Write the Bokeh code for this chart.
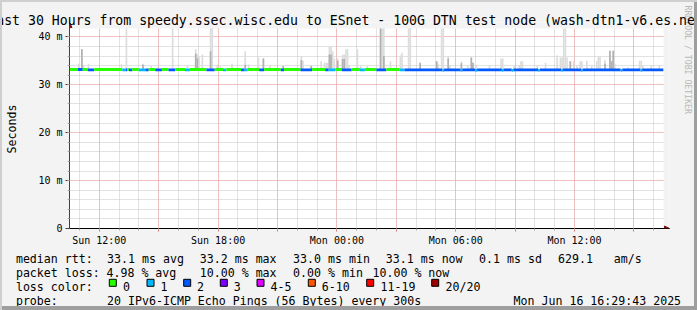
import math
import pandas as pd
from bokeh.plotting import figure
from bokeh.layouts import column
from bokeh.models import (ColumnDataSource, FixedTicker, Range1d, Arrow, NormalHead, Title)
from bokeh.core.properties import value
from bokeh.embed import file_html
from bokeh.resources import INLINE

# ---------------- data ----------------
title_text = "Last 30 Hours from speedy.ssec.wisc.edu to ESnet - 100G DTN test node (wash-dtn1-v6.es.net)"
start_time = "2025-06-15 10:29:43"
end_time = "2025-06-16 16:29:43"
step_seconds = 300

# median rtt, run-length segments (start step, lost-ping class, median ms)
seg_start = [0, 5, 8, 11, 15, 32, 34, 35, 36, 38, 42, 46, 48, 52, 56, 60, 64, 70, 73, 83,
             88, 93, 95, 104, 106, 108, 115, 118, 128, 130, 140, 147, 155, 157, 161, 165, 171, 176, 179, 186,
             192, 200, 203, 226, 227, 237, 238, 246, 247, 262, 263, 268, 269, 284, 285, 298, 299, 310, 311, 334,
             335, 346, 347]
seg_loss = [0, 2, 0, 2, 0, 1, 2, 0, 2, 0, 1, 2, 0, 2, 0, 2, 0, 1, 0, 2,
            0, 1, 0, 2, 1, 0, 2, 0, 2, 0, 2, 0, 2, 1, 0, 2, 0, 1, 0, 2,
            0, 1, 2, 1, 2, 1, 2, 1, 2, 1, 2, 1, 2, 1, 2, 1, 2, 1, 2, 1,
            2, 1, 2]
seg_median = [33.2, 33.2, 33.2, 33.1, 33.2, 33.1, 33.1, 33.2, 33.1, 33.2, 33.1, 33.1, 33.2, 33.1, 33.2, 33.1, 33.2, 33.1, 33.2, 33.1,
              33.2, 33.1, 33.2, 33.1, 33.1, 33.2, 33.1, 33.2, 33.1, 33.2, 33.1, 33.2, 33.1, 33.1, 33.2, 33.1, 33.2, 33.1, 33.2, 33.1,
              33.2, 33.1, 33.1, 33.0, 33.1, 33.0, 33.1, 33.0, 33.1, 33.0, 33.1, 33.0, 33.1, 33.0, 33.1, 33.0, 33.1, 33.0, 33.1, 33.0,
              33.1, 33.0, 33.1]

# smoke (ping spread) per step: highest ping and top of the dense (darker) part, ms
spike_step = [5, 7, 8, 11, 31, 34, 44, 49, 53, 62, 71, 76, 77, 78, 80, 85, 86, 89, 91, 98,
              106, 108, 114, 117, 121, 129, 134, 140, 141, 146, 152, 154, 155, 156, 157, 158, 159, 160, 162, 165,
              166, 167, 168, 169, 174, 176, 180, 188, 189, 190, 194, 200, 201, 205, 206, 212, 222, 223, 225, 226,
              229, 230, 237, 241, 243, 244, 246, 254, 261, 262, 269, 272, 273, 274, 283, 288, 295, 297, 298, 299,
              300, 301, 303, 305, 307, 309, 310, 313, 316, 319, 320, 321, 324, 327, 328, 329, 330, 338, 345, 346,
              347, 352, 357]
spike_max = [34.4, 37.4, 34.2, 34.4, 34.3, 42.5, 34.4, 33.9, 33.6, 42.5, 33.9, 37.4, 36.3, 35.9, 36.3, 42.5, 42.5, 34.2, 33.8, 34.4,
             37.0, 34.2, 35.7, 35.5, 33.9, 33.9, 33.5, 36.0, 35.0, 33.9, 34.9, 34.6, 34.6, 34.6, 37.9, 37.9, 37.0, 35.5, 35.5, 36.3,
             36.3, 37.4, 37.4, 34.0, 37.4, 33.9, 33.9, 42.5, 42.5, 42.5, 34.9, 36.1, 36.7, 42.5, 42.5, 34.6, 34.9, 34.4, 42.5, 42.5,
             36.0, 33.9, 34.9, 34.0, 35.7, 34.6, 34.1, 34.0, 35.5, 35.5, 33.9, 34.0, 34.9, 34.9, 34.0, 34.6, 36.1, 35.7, 35.7, 42.5,
             42.5, 35.7, 34.9, 34.9, 33.9, 34.9, 34.9, 35.0, 33.9, 34.9, 35.9, 35.9, 35.2, 37.1, 34.9, 37.1, 34.4, 33.6, 35.0, 35.0,
             34.0, 33.9, 33.9]
spike_mid = [0, 37.4, 0, 0, 0, 0, 34.2, 0, 0, 0, 0, 36.5, 35.5, 0, 0, 37.0, 0, 0, 0, 0,
             34.2, 0, 0, 35.5, 0, 33.9, 0, 35.2, 0, 33.9, 0, 0, 0, 0, 36.3, 36.3, 0, 0, 35.0, 35.4,
             35.4, 0, 0, 0, 0, 0, 0, 42.5, 0, 36.0, 0, 0, 0, 0, 0, 34.6, 34.9, 0, 0, 0,
             35.5, 0, 34.5, 0, 35.7, 34.6, 0, 0, 0, 0, 0, 0, 0, 0, 0, 0, 0, 0, 0, 0,
             0, 0, 34.9, 0, 0, 0, 0, 0, 0, 0, 0, 0, 34.4, 37.1, 34.9, 37.1, 0, 0, 0, 0,
             0, 0, 0]
smoke_floor = 33.0

loss_labels = ["0", "1", "2", "3", "4-5", "6-10", "11-19", "20/20"]
loss_colors = ["#26ff00", "#00b8ff", "#0059ff", "#7e00ff", "#dd00ff", "#ff5500", "#ff0000", "#a10000"]

y_tick_values = [0, 10, 20, 30, 40]
y_tick_labels = ["0", "10 m", "20 m", "30 m", "40 m"]
x_tick_times = ["2025-06-15 12:00", "2025-06-15 15:00", "2025-06-15 18:00", "2025-06-15 21:00",
                "2025-06-16 00:00", "2025-06-16 03:00", "2025-06-16 06:00", "2025-06-16 09:00",
                "2025-06-16 12:00", "2025-06-16 15:00"]
x_tick_labels = ["Sun 12:00", "", "Sun 18:00", "", "Mon 00:00", "", "Mon 06:00", "", "Mon 12:00", ""]

row_rtt = ["median rtt:", "33.1 ms avg", "33.2 ms max", "33.0 ms min", "33.1 ms now", "0.1 ms sd", "629.1", "am/s"]
row_loss = ["packet loss:", "4.98 % avg", "10.00 % max", "0.00 % min", "10.00 % now"]
row_color = ["loss color:"]
row_probe = ["probe:", "20 IPv6-ICMP Echo Pings (56 Bytes) every 300s"]
stamp_text = "Mon Jun 16 16:29:43 2025"
watermark = "RRDTOOL / TOBI OETIKER"

assert len(seg_start) == len(seg_loss) == len(seg_median)
assert len(spike_step) == len(spike_max) == len(spike_mid)

# ---------------- layout constants (window pixels) ----------------
MONO = "DejaVu Sans Mono"
BG = "#f3f3f3"
Y_TOP = 41.75            # top of the graph area (ms)
PX_MS = 200 / Y_TOP      # pixels per ms
rtt_x = [15.4, 106.6, 199.3, 292.6, 385.3, 478.6, 557.6, 613.3]
loss_x = [15.4, 106.0, 199.3, 292.6, 372.0]
swatch_x = [108.3, 146.0, 182.7, 219.3, 256.0, 307.3, 365.7, 430.7]
swatch_label_x = [122.6, 160.0, 196.6, 233.3, 270.0, 321.3, 380.0, 445.0]
row_base = [258.3, 272.2, 286.1, 300.0]


def ms(t):
    return pd.Timestamp(t).value / 1e6


t0 = ms(start_time)
t1 = ms(end_time)
dt = step_seconds * 1000.0
n_steps = int(round((t1 - t0) / dt))
px_t = (t1 - t0) / 600          # ms of time per pixel
x_end = t1 + 6 * px_t           # room for the x-axis arrow
y_end = Y_TOP + 6 / PX_MS       # room for the y-axis arrow

# ---------------- main chart ----------------
p = figure(width=692, height=246, output_backend="svg", toolbar_location=None,
           x_range=Range1d(t0, x_end), y_range=Range1d(0, y_end),
           min_border_left=65, min_border_right=21, min_border_top=20, min_border_bottom=20,
           background_fill_color="white", border_fill_color=BG,
           outline_line_color=None)
p.margin = (2, 3, 0, 2)
p.frame_align = False

p.title = Title(text=title_text, text_font=MONO, text_font_size="13.2px", text_color="black",
                text_font_style="normal", align="left", offset=-81.2, standoff=-11)
# spacer + watermark in the right border
p.add_layout(Title(text=" ", text_font=MONO, text_font_size="8.2px", text_color=BG,
                   text_font_style="normal", align="left", standoff=0.6), "right")
p.add_layout(Title(text=watermark, text_font=MONO, text_font_size="8.2px", text_color="#b8b8b8",
                   text_font_style="normal", align="left", offset=-17, standoff=0), "right")

xt = FixedTicker(ticks=[ms(t) for t in x_tick_times],
                 minor_ticks=[ms(t) for t in pd.date_range("2025-06-15 11:00", "2025-06-16 16:00", freq="h")])
p.xaxis.ticker = xt
p.xgrid.ticker = xt
p.xaxis.major_label_overrides = {ms(t): lab for t, lab in zip(x_tick_times, x_tick_labels)}
yt = FixedTicker(ticks=y_tick_values, minor_ticks=list(range(2, 42, 2)))
p.yaxis.ticker = yt
p.ygrid.ticker = yt
p.yaxis.major_label_overrides = dict(zip(y_tick_values, y_tick_labels))

for ax in (p.xaxis, p.yaxis):
    ax.major_label_text_font = MONO
    ax.major_label_text_font_size = "10px"
    ax.major_label_text_color = "black"
    ax.major_tick_in = 0
    ax.minor_tick_in = 0
    ax.axis_line_width = 1
p.xaxis.axis_line_color = "black"
p.yaxis.axis_line_color = "#404040"
p.xaxis.major_tick_out = 3
p.xaxis.major_tick_line_color = "#ff6060"
p.xaxis.minor_tick_out = 2
p.xaxis.minor_tick_line_color = "#a8a8a8"
p.xaxis.major_label_standoff = 3
p.yaxis.major_tick_out = 4
p.yaxis.major_tick_line_color = "#404040"
p.yaxis.minor_tick_out = 2
p.yaxis.minor_tick_line_color = "#b0b0b0"
p.yaxis.major_label_standoff = 3
p.yaxis.axis_label = "Seconds\u00a0"
p.yaxis.axis_label_text_font = MONO
p.yaxis.axis_label_text_font_size = "11.6px"
p.yaxis.axis_label_text_font_style = "normal"
p.yaxis.axis_label_text_color = "black"
p.yaxis.axis_label_standoff = 16

for g in (p.xgrid, p.ygrid):
    g.grid_line_color = "#ff9f9f"
    g.grid_line_dash = "1 1"
    g.minor_grid_line_color = "#c4c4c4"
    g.minor_grid_line_dash = "1 1"

# smoke
smoke = ColumnDataSource(dict(
    left=[t0 + s * dt for s in spike_step],
    right=[t0 + (s + 1) * dt for s in spike_step],
    bottom=[smoke_floor] * len(spike_step),
    top=spike_max))
p.quad(left="left", right="right", bottom="bottom", top="top", source=smoke,
       fill_color="#dcdcdc", line_color=None)
dark_idx = [i for i, m in enumerate(spike_mid) if m > 0]
dark = ColumnDataSource(dict(
    left=[t0 + spike_step[i] * dt for i in dark_idx],
    right=[t0 + (spike_step[i] + 1) * dt for i in dark_idx],
    bottom=[smoke_floor] * len(dark_idx),
    top=[spike_mid[i] for i in dark_idx]))
p.quad(left="left", right="right", bottom="bottom", top="top", source=dark,
       fill_color="#b0b0b0", line_color=None)

# median band coloured by loss
seg_end = seg_start[1:] + [n_steps]
med = ColumnDataSource(dict(
    left=[t0 + s * dt for s in seg_start],
    right=[t0 + e * dt for e in seg_end],
    bottom=[m - 0.3 for m in seg_median],
    top=[m + 0.3 for m in seg_median],
    color=[loss_colors[l] for l in seg_loss]))
p.quad(left="left", right="right", bottom="bottom", top="top", source=med,
       fill_color="color", line_color=None)

# canvas-coloured margins above / right of the graph area (room for the arrows)
p.quad(left=[t0, t1], right=[x_end, x_end], bottom=[Y_TOP, 0], top=[y_end, y_end],
       fill_color=BG, line_color=None)

# axis arrows
p.add_layout(Arrow(x_start=t0, y_start=Y_TOP, x_end=t0, y_end=y_end,
                   line_color="#404040", line_width=1,
                   end=NormalHead(size=5, fill_color="#7f1414", line_color="#7f1414", line_width=1)))
p.add_layout(Arrow(x_start=t1, y_start=0, x_end=x_end, y_end=0,
                   line_color="black", line_width=1,
                   end=NormalHead(size=5, fill_color="#7f1414", line_color="#7f1414", line_width=1)))

# ---------------- legend strip (coordinates are window pixels) ----------------
q = figure(width=692, height=58, output_backend="svg", toolbar_location=None,
           x_range=Range1d(2, 694), y_range=Range1d(306, 248),
           x_axis_location=None, y_axis_location=None, min_border=0,
           background_fill_color=BG, border_fill_color=BG, outline_line_color=None)
q.margin = (0, 3, 4, 2)
q.frame_align = False
q.xgrid.visible = False
q.ygrid.visible = False

txt_x, txt_y, txt = [], [], []
for row, xs, base in ((row_rtt, rtt_x, row_base[0]), (row_loss, loss_x, row_base[1]),
                      (row_color, [15.4], row_base[2]), (row_probe, [15.4, 106.6], row_base[3])):
    for t, xw in zip(row, xs):
        txt_x.append(xw)
        txt_y.append(base)
        txt.append(t)
for lab, xw in zip(loss_labels, swatch_label_x):
    txt_x.append(xw)
    txt_y.append(row_base[2])
    txt.append(lab)
q.text(x=txt_x, y=txt_y, text=txt, text_font=value(MONO), text_font_size="11.6px",
       text_color="black", text_baseline="alphabetic", text_align="left")
q.text(x=[680.6], y=[row_base[3]], text=[stamp_text], text_font=value(MONO), text_font_size="11.6px",
       text_color="black", text_baseline="alphabetic", text_align="right")
q.quad(left=[x + 0.5 for x in swatch_x], right=[x + 7.5 for x in swatch_x],
       top=[278.8] * len(swatch_x), bottom=[285.8] * len(swatch_x),
       fill_color=loss_colors, line_color="black", line_width=1)

root = column(p, q, width=697, height=310,
              styles={"background-color": BG,
                      "box-shadow": "inset 2px 2px 0 0 #cfcfcf, inset -3px -4px 0 0 #9e9e9e"})

open("out.html", "w").write(file_html(root, INLINE))
